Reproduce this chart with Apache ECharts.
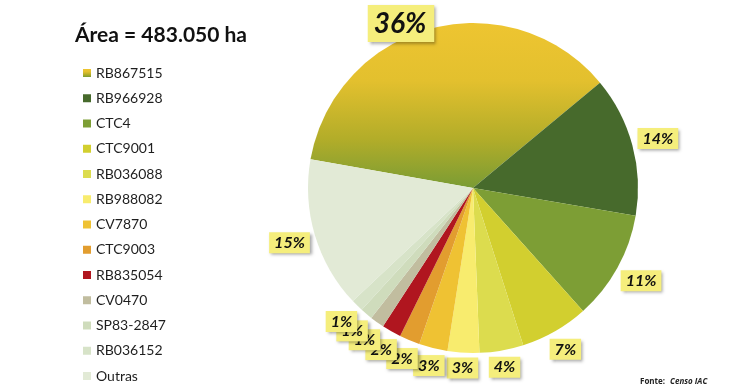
<!DOCTYPE html>
<html><head><meta charset="utf-8">
<script src="https://cdn.jsdelivr.net/npm/echarts@6/dist/echarts.min.js"></script>
<style>html,body{margin:0;padding:0;background:#fff}#c{width:750px;height:392px}</style>
</head><body><div id="c"></div>
<script>
const titleText = 'Área = 483.050 ha';
const sourceLabel = 'Fonte:';
const sourceName = 'Censo IAC';
const categories = ['RB867515','RB966928','CTC4','CTC9001','RB036088','RB988082','CV7870','CTC9003','RB835054','CV0470','SP83-2847','RB036152','Outras'];
const shares = [36.2, 13.7, 10.7, 6.7, 4.3, 3.1, 2.8, 2.0, 1.9, 1.4, 1.2, 1.2, 14.8];

const sliceColors = [
  null,
  '#476a2c', '#7d9e35', '#d2cf2f', '#dcdc4e', '#f8ec6e', '#efc233', '#e29d2f',
  '#b0161f', '#c1bd9f', '#cfdcbc', '#d7e3c8', '#e2ead6'
];
const goldGradient = new echarts.graphic.LinearGradient(0, 0, 0, 1, [
  {offset: 0, color: '#eec531'},
  {offset: 0.35, color: '#e3c02e'},
  {offset: 0.7, color: '#b3ad29'},
  {offset: 1, color: '#7a9c34'}
]);

const chart = echarts.init(document.getElementById('c'), null, {renderer: 'canvas'});

const pieData = categories.map((name, i) => {
  const item = {name: name, value: shares[i], itemStyle: {color: i === 0 ? goldGradient : sliceColors[i]}};
  if (i === 0) item.label = {fontSize: 28, padding: [5, 8, 4, 6]};
  return item;
});

chart.setOption({
  animation: false,
  backgroundColor: '#ffffff',
  title: [
    {text: titleText, left: 75, top: 25, padding: 0,
     textStyle: {fontFamily: 'Lato', fontWeight: 'bold', fontSize: 21, color: '#111'}},
    {text: '{b|' + sourceLabel + '} {i|' + sourceName + '}', left: 640, top: 373, padding: 0,
     textStyle: {rich: {
       b: {fontFamily: 'Open Sans', fontWeight: 'bold', fontSize: 8, color: '#222'},
       i: {fontFamily: 'Open Sans', fontStyle: 'italic', fontSize: 8, color: '#222'}
     }}}
  ],
  legend: {
    orient: 'vertical', left: 83, top: 65, height: 340, padding: 0,
    icon: 'rect', itemWidth: 8, itemHeight: 8, itemGap: 9.25,
    textStyle: {fontFamily: 'Lato', fontSize: 14, color: '#1e1e1e', lineHeight: 16},
    data: categories
  },
  series: [{
    type: 'pie',
    center: [473, 188],
    radius: 165,
    startAngle: 170,
    clockwise: true,
    avoidLabelOverlap: false,
    data: pieData,
    itemStyle: {borderWidth: 0},
    labelLine: {show: false},
    emphasis: {disabled: true},
    label: {
      show: true,
      position: 'outside',
      formatter: p => Math.round(p.percent) + '%',
      fontFamily: 'Lato', fontWeight: 'bold', fontStyle: 'italic', fontSize: 16, color: '#111',
      backgroundColor: '#f5ee7c',
      padding: [3, 5, 2, 5],
      shadowColor: 'rgba(0,0,0,0.35)', shadowBlur: 3, shadowOffsetX: 2, shadowOffsetY: 2
    },
    labelLayout: function (p) {
      const lay = chart.getModel().getSeriesByIndex(0).getData().getItemLayout(p.dataIndex);
      const mid = (lay.startAngle + lay.endAngle) / 2;
      const dx = Math.cos(mid), dy = Math.sin(mid);
      const w = p.labelRect.width, h = p.labelRect.height;
      const d = lay.r + 4 + Math.abs(dx) * w / 2 + Math.abs(dy) * h / 2;
      let x = lay.cx + dx * d, y = lay.cy + dy * d;
      const minY = 5 + h / 2;
      if (y < minY) { x += Math.sign(dx) * (minY - y) * 0.9; y = minY; }
      return {x: x, y: y, align: 'center', verticalAlign: 'middle'};
    }
  }]
});
</script></body></html>
